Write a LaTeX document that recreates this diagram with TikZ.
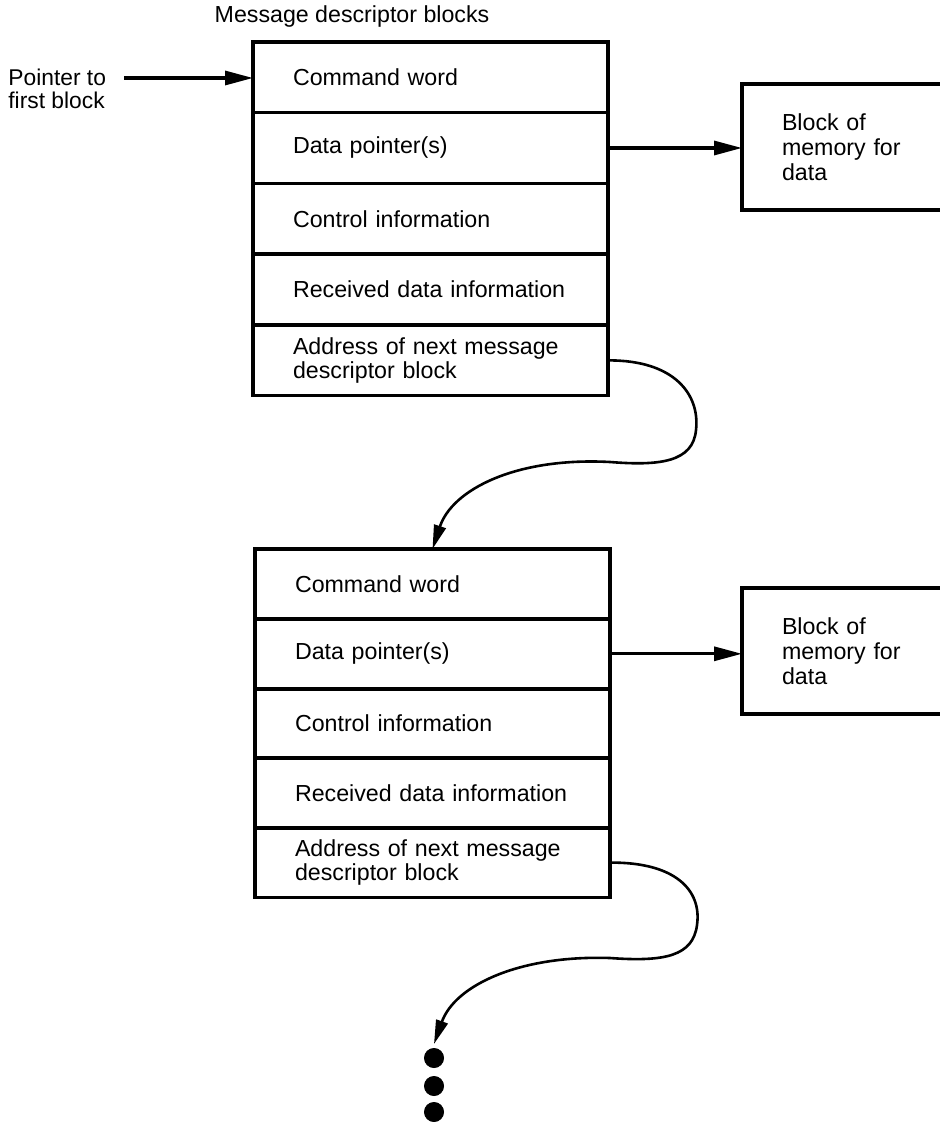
\documentclass[tikz,border=0pt]{standalone}
\usepackage{fontspec}
\setmainfont{Liberation Sans}
\usetikzlibrary{arrows.meta}
\tikzset{
  rowbox/.style={draw, line width=1.6pt, anchor=north west, outer sep=0pt,
    minimum width=177.5pt, minimum height=35.2pt, text width=137.5pt,
    inner xsep=20pt, align=left, font=\fontsize{11.6}{12}\selectfont},
  membox/.style={draw, line width=1.6pt, anchor=north west, outer sep=0pt,
    minimum width=112pt, minimum height=63pt, text width=72pt,
    inner xsep=20pt, align=left, font=\fontsize{11.6}{12.5}\selectfont},
  ptr/.style={line width=1.6pt, -{Triangle[length=14pt, width=7pt]}},
  link/.style={line width=1.3pt, -{Triangle[length=12pt, width=6pt]}}
}
\begin{document}
\begin{tikzpicture}[x=0.5pt, y=-0.5pt]
			\useasboundingbox (0,0) rectangle (940,1122);
			\node[font=\fontsize{11.6}{12}\selectfont] (title) at (352,17) {Message descriptor blocks};
			\node[anchor=west, align=left, inner sep=0pt, font=\fontsize{11.4}{11.2}\selectfont] (ptrtxt) at (8,89) {Pointer to\\first block};
			\node[rowbox] (a1) at (253,42) {Command word};
			\node[rowbox] (a2) at (253,112.8) {Data pointer(s)};
			\node[rowbox] (a3) at (253,183.6) {Control information};
			\node[rowbox] (a4) at (253,254.4) {Received data information};
			\node[rowbox] (a5) at (253,325.2) {Address of next message\\descriptor block};
			\node[membox] (mem1) at (742,84) {Block of\\memory for\\data};
			\node[rowbox] (b1) at (255,549) {Command word};
			\node[rowbox] (b2) at (255,618.6) {Data pointer(s)};
			\node[rowbox] (b3) at (255,688.2) {Control information};
			\node[rowbox] (b4) at (255,757.8) {Received data information};
			\node[rowbox] (b5) at (255,827.4) {Address of next message\\descriptor block};
			\node[membox] (mem2) at (742,588) {Block of\\memory for\\data};
			\coordinate (start) at (124,78);
			\coordinate (more) at (434,1044);
			\draw[ptr] (start) -- (start -| a1.west);
			\draw[ptr] (a2.east) -- (a2.east -| mem1.west);
			\draw[ptr] (b2.east) -- (b2.east -| mem2.west);
			\draw[link] (a5.east) .. controls (675,360) and (700,395) .. (696,430)
				.. controls (693,462) and (660,466) .. (610,462)
				.. controls (515,457) and (452,490) .. (b1.north);
			\draw[link] (b5.east) .. controls (675,862) and (702,890) .. (697,925)
				.. controls (693,956) and (665,962) .. (610,958)
				.. controls (520,955) and (455,985) .. (more);
			\filldraw (434,1058) circle (4.8pt);
			\filldraw (434,1086) circle (4.8pt);
			\filldraw (434,1112) circle (4.8pt);
\end{tikzpicture}
\end{document}
